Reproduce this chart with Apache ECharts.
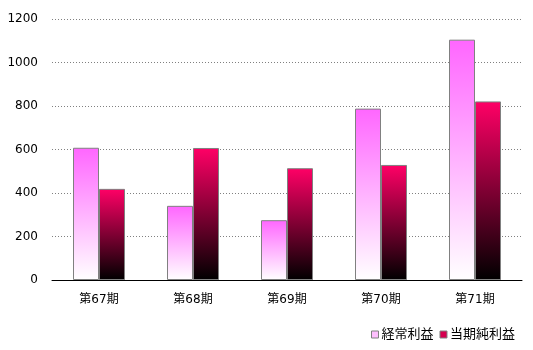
<!DOCTYPE html>
<html>
<head>
<meta charset="utf-8">
<script src="https://cdn.jsdelivr.net/npm/echarts@6/dist/echarts.min.js"></script>
<style>
  html, body { margin: 0; padding: 0; background: #fff; }
  #chart { width: 533px; height: 350px; }
</style>
</head>
<body>
<div id="chart"></div>
<script>
// Fiscal periods and profit figures
const periods = ['第67期', '第68期', '第69期', '第70期', '第71期'];
const ordinaryProfit = [608, 341, 275, 788, 1105];
const netProfit = [419, 607, 514, 529, 821];
const seriesNames = ['経常利益', '当期純利益'];

const FONT = '"DejaVu Sans", "Noto Sans CJK JP", sans-serif';

function vGrad(top, bottom) {
  return new echarts.graphic.LinearGradient(0, 0, 0, 1, [
    { offset: 0, color: top },
    { offset: 1, color: bottom }
  ]);
}

const chart = echarts.init(document.getElementById('chart'), null, { renderer: 'canvas' });
chart.setOption({
  animation: false,
  backgroundColor: '#fff',
  grid: { left: 52, right: 11, top: 19, bottom: 70, containLabel: false },
  legend: {
    right: 13,
    bottom: 4,
    itemWidth: 7,
    itemHeight: 7,
    itemGap: 6,
    textStyle: { fontFamily: FONT, fontSize: 13, color: '#000', padding: [0, 0, 0, -2] },
    data: [
      { name: seriesNames[0], icon: 'rect', itemStyle: { color: '#ffc0ff', borderColor: '#808080', borderWidth: 1 } },
      { name: seriesNames[1], icon: 'rect', itemStyle: { color: '#d6004f', borderColor: '#808080', borderWidth: 1 } }
    ]
  },
  xAxis: {
    type: 'category',
    data: periods,
    axisLine: { lineStyle: { color: '#000', width: 1 } },
    axisTick: { inside: true, length: 5, lineStyle: { color: '#000' } },
    axisLabel: { fontFamily: FONT, fontSize: 12, color: '#000', margin: 14 }
  },
  yAxis: {
    type: 'value',
    min: 0,
    max: 1200,
    interval: 200,
    axisLine: { show: false },
    axisTick: { show: false },
    axisLabel: { fontFamily: FONT, fontSize: 12, color: '#000', margin: 14, formatter: v => String(v) },
    splitLine: { lineStyle: { color: '#808080', type: [1, 2], width: 1 } }
  },
  series: [
    {
      name: seriesNames[0],
      type: 'bar',
      data: ordinaryProfit,
      barWidth: 26,
      barGap: '0%',
      itemStyle: { color: vGrad('#ff66ff', '#ffffff'), borderColor: '#808080', borderWidth: 1 }
    },
    {
      name: seriesNames[1],
      type: 'bar',
      data: netProfit,
      barWidth: 26,
      barGap: '0%',
      itemStyle: { color: vGrad('#ff0066', '#000000'), borderColor: '#808080', borderWidth: 1 }
    }
  ]
});
</script>
</body>
</html>
